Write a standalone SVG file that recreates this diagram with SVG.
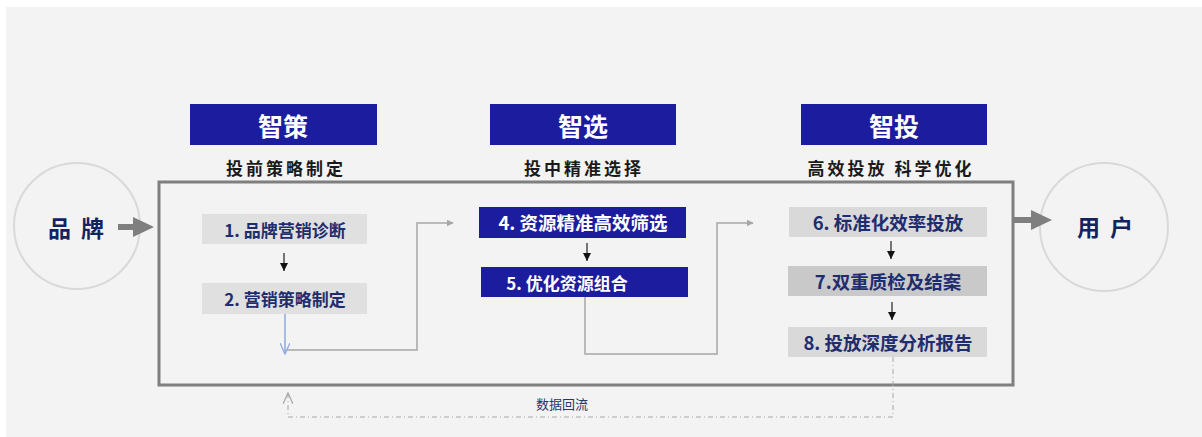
<svg xmlns="http://www.w3.org/2000/svg" width="1202" height="437" viewBox="0 0 1202 437">
<defs>
<style>
text{font-family:"Noto Sans CJK SC","Liberation Sans",sans-serif;font-weight:bold;text-anchor:middle;dominant-baseline:central}
.hdr{fill:#1c1c9e}
.hdrt{fill:#ffffff;font-size:25px}
.sub{fill:#1a1a1a;font-size:17px;letter-spacing:3px}
.g1{fill:#e0e0e0}
.g2{fill:#d9d9d9}
.g3{fill:#c9c9c9}
.b{fill:#1c1c9e}
.nt{fill:#1f2d6e}
.wt{fill:#ffffff}
.circ{fill:none;stroke:#d9d9d9;stroke-width:2}
.big{fill:#14235f;font-size:23px;letter-spacing:10px}
.con{fill:none;stroke:#a6a6a6;stroke-width:1.5}
.small{stroke:#222;stroke-width:1.2}
.note{fill:#2a3566;font-size:13px;font-weight:normal}
</style>
<marker id="ga" viewBox="0 0 10 10" refX="9" refY="5" markerWidth="7" markerHeight="7" orient="auto" markerUnits="userSpaceOnUse"><path d="M0,0 L10,5 L0,10 z" fill="#a6a6a6"/></marker>
<marker id="ba" viewBox="0 0 12 10" refX="11" refY="5" markerWidth="12" markerHeight="10" orient="auto" markerUnits="userSpaceOnUse"><path d="M0,0 L11,5 L0,10" fill="none" stroke="#8faadc" stroke-width="1.3"/></marker>
<marker id="da" viewBox="0 0 12 10" refX="11" refY="5" markerWidth="12" markerHeight="10" orient="auto" markerUnits="userSpaceOnUse"><path d="M0,0 L11,5 L0,10" fill="none" stroke="#a6a6a6" stroke-width="1.2"/></marker>
<marker id="ka" viewBox="0 0 10 10" refX="10" refY="5" markerWidth="8" markerHeight="8" orient="auto" markerUnits="userSpaceOnUse"><path d="M0,0 L10,5 L0,10 z" fill="#111"/></marker>
</defs>
<rect x="0" y="0" width="1202" height="437" fill="#ffffff"/>
<rect x="6" y="7" width="1196" height="430" fill="#f3f3f3"/>

<g id="frame"><rect x="159" y="182" width="854" height="203" fill="none" stroke="#7f7f7f" stroke-width="3"/></g>

<g id="brand"><circle cx="77" cy="226" r="63" class="circ"/><text x="81" y="227" class="big">品牌</text></g>
<g id="user"><circle cx="1104" cy="227" r="64" class="circ"/><text x="1110" y="226" class="big">用户</text></g>

<g id="head-zhice"><rect x="190" y="104" width="187" height="41" class="hdr"/><text x="283" y="125" class="hdrt">智策</text><text x="286" y="167" class="sub">投前策略制定</text></g>
<g id="head-zhixuan"><rect x="490" y="104" width="186" height="41" class="hdr"/><text x="583" y="125" class="hdrt">智选</text><text x="584" y="167" class="sub">投中精准选择</text></g>
<g id="head-zhitou"><rect x="801" y="104" width="186" height="41" class="hdr"/><text x="894" y="125" class="hdrt">智投</text><text x="891" y="167" class="sub">高效投放 科学优化</text></g>

<g id="step1"><rect x="202" y="214" width="165" height="30" class="g1"/><text x="285" y="229" class="nt" font-size="17">1. 品牌营销诊断</text></g>
<g id="step2"><rect x="202" y="283" width="165" height="31" class="g1"/><text x="285" y="298" class="nt" font-size="17">2. 营销策略制定</text></g>
<g id="step4"><rect x="479" y="207" width="207" height="31" class="b"/><text x="583" y="222" class="wt" font-size="18.5">4. 资源精准高效筛选</text></g>
<g id="step5"><rect x="481" y="267" width="207" height="30" class="b"/><text x="567" y="282" class="wt" font-size="17">5. 优化资源组合</text></g>
<g id="step6"><rect x="789" y="207" width="198" height="30" class="g2"/><text x="888" y="222" class="nt" font-size="18.5">6. 标准化效率投放</text></g>
<g id="step7"><rect x="788" y="266" width="199" height="30" class="g3"/><text x="888" y="281" class="nt" font-size="18.5">7.双重质检及结案</text></g>
<g id="step8"><rect x="788" y="327" width="199" height="30" class="g2"/><text x="888" y="342" class="nt" font-size="18.5">8. 投放深度分析报告</text></g>

<g id="connectors">
<path d="M118,227 H136" stroke="#7f7f7f" stroke-width="6"/>
<path d="M133,217 L154,227 L133,237 z" fill="#7f7f7f"/>
<path d="M1013,220 H1034" stroke="#7f7f7f" stroke-width="6"/>
<path d="M1031,210 L1052,220 L1031,230 z" fill="#7f7f7f"/>

<line x1="284" y1="253" x2="284" y2="271" class="small" marker-end="url(#ka)"/>
<line x1="587" y1="243" x2="587" y2="261" class="small" marker-end="url(#ka)"/>
<line x1="891" y1="241" x2="891" y2="259" class="small" marker-end="url(#ka)"/>
<line x1="892" y1="302" x2="892" y2="320" class="small" marker-end="url(#ka)"/>

<path d="M285,314 V354" fill="none" stroke="#8faadc" stroke-width="1.5" marker-end="url(#ba)"/>
<path d="M287,350 H417 V223 H453" class="con" marker-end="url(#ga)"/>
<path d="M585,297 V354 H717 V223 H753" class="con" marker-end="url(#ga)"/>
<path d="M893,357 V417 H288 V393" fill="none" stroke="#a6a6a6" stroke-width="1" stroke-dasharray="5,3,1,3" marker-end="url(#da)"/>
<text x="562" y="403" class="note">数据回流</text>
</g>
</svg>
